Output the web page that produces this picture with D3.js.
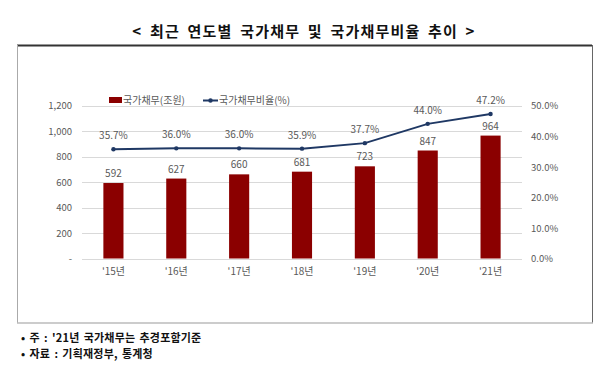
<!DOCTYPE html>
<html><head><meta charset="utf-8">
<script src="https://cdn.jsdelivr.net/npm/d3@7"></script>
<style>body{margin:0;background:#fff}svg{display:block}</style>
</head><body>
<svg id="c" width="600" height="381"></svg>
<script>
const categories = ["'15년","'16년","'17년","'18년","'19년","'20년","'21년"];
const debt = [592, 627, 660, 681, 723, 847, 964];
const ratio = [35.7, 36.0, 36.0, 35.9, 37.7, 44.0, 47.2];
const leftTicks = [0, 200, 400, 600, 800, 1000, 1200];
const rightTicks = [0, 10, 20, 30, 40, 50];
const title = "< 최근 연도별 국가채무 및 국가채무비율 추이 >";
const notes = ["• 주 : '21년 국가채무는 추경포함기준", "• 자료 : 기획재정부, 통계청"];
const legendLabels = ["국가채무(조원)", "국가채무비율(%)"];

const svg = d3.select("#c");
const font = "'Noto Sans CJK KR','Noto Sans',sans-serif";
const gray = "#595959";

// title
svg.append("text").attr("x", 304).attr("y", 37).attr("text-anchor", "middle")
  .attr("font-family", font).attr("font-weight", "bold").attr("font-size", 15)
  .attr("letter-spacing", 1.2).attr("word-spacing", 3).attr("fill", "#111")
  .text(title);

// frame
svg.append("line").attr("x1", 17).attr("x2", 592).attr("y1", 45.5).attr("y2", 45.5).attr("stroke", "#333").attr("stroke-width", 2);
svg.append("line").attr("x1", 17.5).attr("x2", 17.5).attr("y1", 45).attr("y2", 323).attr("stroke", "#aaa").attr("stroke-width", 1);
svg.append("line").attr("x1", 592.5).attr("x2", 592.5).attr("y1", 45).attr("y2", 323).attr("stroke", "#666").attr("stroke-width", 1);
svg.append("line").attr("x1", 17).attr("x2", 593).attr("y1", 323).attr("y2", 323).attr("stroke", "#bbb").attr("stroke-width", 1.5);

const x = d3.scaleBand().domain(categories).range([82, 522]).paddingInner(0.68).paddingOuter(0.34);
const y = d3.scaleLinear().domain([0, 1200]).range([258.5, 105.5]);
const y2 = d3.scaleLinear().domain([0, 50]).range([258.5, 105.5]);

// gridlines
svg.append("g").selectAll("line").data(leftTicks).join("line")
  .attr("x1", 82).attr("x2", 522).attr("y1", d => Math.round(y(d)) + 0.5).attr("y2", d => Math.round(y(d)) + 0.5)
  .attr("stroke", "#d9d9d9").attr("stroke-width", 1);

// left axis
const la = svg.append("g").attr("transform", "translate(72,0)")
  .call(d3.axisLeft(y).tickValues(leftTicks).tickSize(0).tickPadding(0)
    .tickFormat(d => d === 0 ? "-" : d3.format(",")(d)));
la.select(".domain").remove();
la.selectAll("text").attr("font-family", font).attr("font-size", 9.5).attr("fill", gray).attr("dy", "0.35em");

// right axis
const ra = svg.append("g").attr("transform", "translate(531,0)")
  .call(d3.axisRight(y2).tickValues(rightTicks).tickSize(0).tickPadding(0)
    .tickFormat(d => d3.format(".1f")(d) + "%"));
ra.select(".domain").remove();
ra.selectAll("text").attr("font-family", font).attr("font-size", 9.5).attr("fill", gray).attr("dy", "0.35em");

// x axis
const xa = svg.append("g").attr("transform", "translate(0,268)")
  .call(d3.axisBottom(x).tickSize(0).tickPadding(0));
xa.select(".domain").remove();
xa.selectAll("text").attr("font-family", font).attr("font-size", 10).attr("fill", gray).attr("dy", "0.71em");

const barColor = "#8b0000";
const lineColor = "#1f3864";

// bars
svg.append("g").selectAll("rect").data(debt).join("rect")
  .attr("x", (d, i) => x(categories[i])).attr("width", x.bandwidth())
  .attr("y", d => y(d)).attr("height", d => y(0) - y(d)).attr("fill", barColor);

svg.append("g").selectAll("text").data(debt).join("text")
  .attr("x", (d, i) => x(categories[i]) + x.bandwidth() / 2).attr("y", d => y(d) - 6)
  .attr("text-anchor", "middle").attr("font-family", font).attr("font-size", 10).attr("fill", gray)
  .text(d => d);

// line
const cx = (d, i) => x(categories[i]) + x.bandwidth() / 2;
svg.append("path").datum(ratio)
  .attr("d", d3.line().x(cx).y(d => y2(d)))
  .attr("fill", "none").attr("stroke", lineColor).attr("stroke-width", 2);
svg.append("g").selectAll("circle").data(ratio).join("circle")
  .attr("cx", cx).attr("cy", d => y2(d)).attr("r", 2.2).attr("fill", lineColor);
svg.append("g").selectAll("text").data(ratio).join("text")
  .attr("x", cx).attr("y", d => y2(d) - 10)
  .attr("text-anchor", "middle").attr("font-family", font).attr("font-size", 10).attr("fill", gray)
  .text(d => d3.format(".1f")(d) + "%");

// legend
const lg = svg.append("g");
lg.append("rect").attr("x", 109).attr("y", 97).attr("width", 13).attr("height", 6).attr("fill", barColor);
lg.append("text").attr("x", 123).attr("y", 100.5).attr("dy", "0.35em").attr("font-family", font)
  .attr("font-size", 10).attr("fill", gray).text(legendLabels[0]);
lg.append("line").attr("x1", 203).attr("x2", 218).attr("y1", 100.5).attr("y2", 100.5).attr("stroke", lineColor).attr("stroke-width", 2);
lg.append("circle").attr("cx", 210.5).attr("cy", 100.5).attr("r", 2.2).attr("fill", lineColor);
lg.append("text").attr("x", 219).attr("y", 100.5).attr("dy", "0.35em").attr("font-family", font)
  .attr("font-size", 10).attr("fill", gray).text(legendLabels[1]);

// notes
svg.append("g").selectAll("text").data(notes).join("text")
  .attr("x", 21).attr("y", (d, i) => 342 + i * 16)
  .attr("font-family", font).attr("font-weight", "bold").attr("font-size", 11)
  .attr("letter-spacing", 0.2).attr("word-spacing", 1.5).attr("fill", "#111")
  .text(d => d);
</script>
</body></html>
